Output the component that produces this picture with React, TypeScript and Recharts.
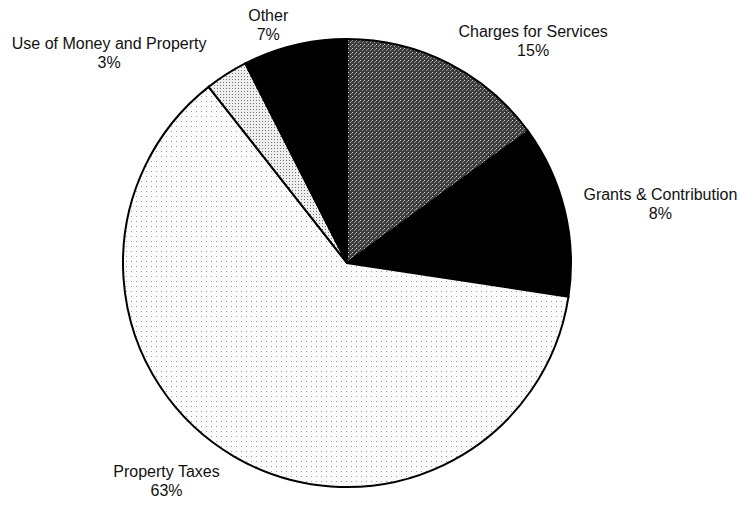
import { PieChart, Pie, Cell } from "recharts";

const CATEGORIES = [
  "Charges for Services",
  "Grants & Contribution",
  "Property Taxes",
  "Use of Money and Property",
  "Other",
];
const VALUES = [15, 12.4, 62, 3.1, 7.5];
const PERCENT_LABELS = ["15%", "8%", "63%", "3%", "7%"];

const FILLS = [
  "url(#darkNoise)",
  "#000000",
  "url(#sparseDots)",
  "url(#lightDots)",
  "#000000",
];
// label nudges relative to the radial anchor point
const LABEL_NUDGE = [
  [64, 18],
  [52, 5],
  [-45, -14],
  [-93, 17],
  [-16, 24],
];

const data = CATEGORIES.map((name, i) => ({ name, value: VALUES[i] }));

const RADIAN = Math.PI / 180;

const renderLabel = (props: any) => {
  const { cx, cy, midAngle, outerRadius, index } = props;
  const r = outerRadius + 45;
  const x = cx + r * Math.cos(-midAngle * RADIAN) + LABEL_NUDGE[index][0];
  const y = cy + r * Math.sin(-midAngle * RADIAN) + LABEL_NUDGE[index][1];
  return (
    <text
      x={x}
      y={y}
      textAnchor="middle"
      fill="#111"
      fontSize={16}
      fontFamily="'Liberation Sans', Arial, sans-serif"
    >
      <tspan x={x} dy={-4}>
        {CATEGORIES[index]}
      </tspan>
      <tspan x={x} dy={19}>
        {PERCENT_LABELS[index]}
      </tspan>
    </text>
  );
};

export default function App() {
  return (
    <div style={{ position: "absolute", left: 0, top: 0, background: "#fff" }}>
      <PieChart width={741} height={506}>
        <defs>
          <pattern id="darkNoise" width="4" height="4" patternUnits="userSpaceOnUse">
            <rect width="4" height="4" fill="#3c3c3c" />
            <rect x="0" y="0" width="1" height="1" fill="#cfcfcf" />
            <rect x="2" y="2" width="1" height="1" fill="#a8a8a8" />
            <rect x="3" y="1" width="1" height="1" fill="#8a8a8a" />
          </pattern>
          <pattern id="sparseDots" width="5" height="5" patternUnits="userSpaceOnUse">
            <rect width="5" height="5" fill="#fbfbfb" />
            <rect x="1" y="1" width="1" height="1" fill="#9a9a9a" />
          </pattern>
          <pattern id="lightDots" width="3" height="3" patternUnits="userSpaceOnUse">
            <rect width="3" height="3" fill="#efefef" />
            <rect x="1" y="1" width="1" height="1" fill="#777" />
          </pattern>
        </defs>
        <Pie
          data={data}
          dataKey="value"
          cx={342}
          cy={258}
          outerRadius={224}
          startAngle={90}
          endAngle={-270}
          stroke="#000"
          strokeWidth={2}
          label={renderLabel}
          labelLine={false}
          isAnimationActive={false}
        >
          {data.map((_, i) => (
            <Cell key={i} fill={FILLS[i]} />
          ))}
        </Pie>
      </PieChart>
    </div>
  );
}
